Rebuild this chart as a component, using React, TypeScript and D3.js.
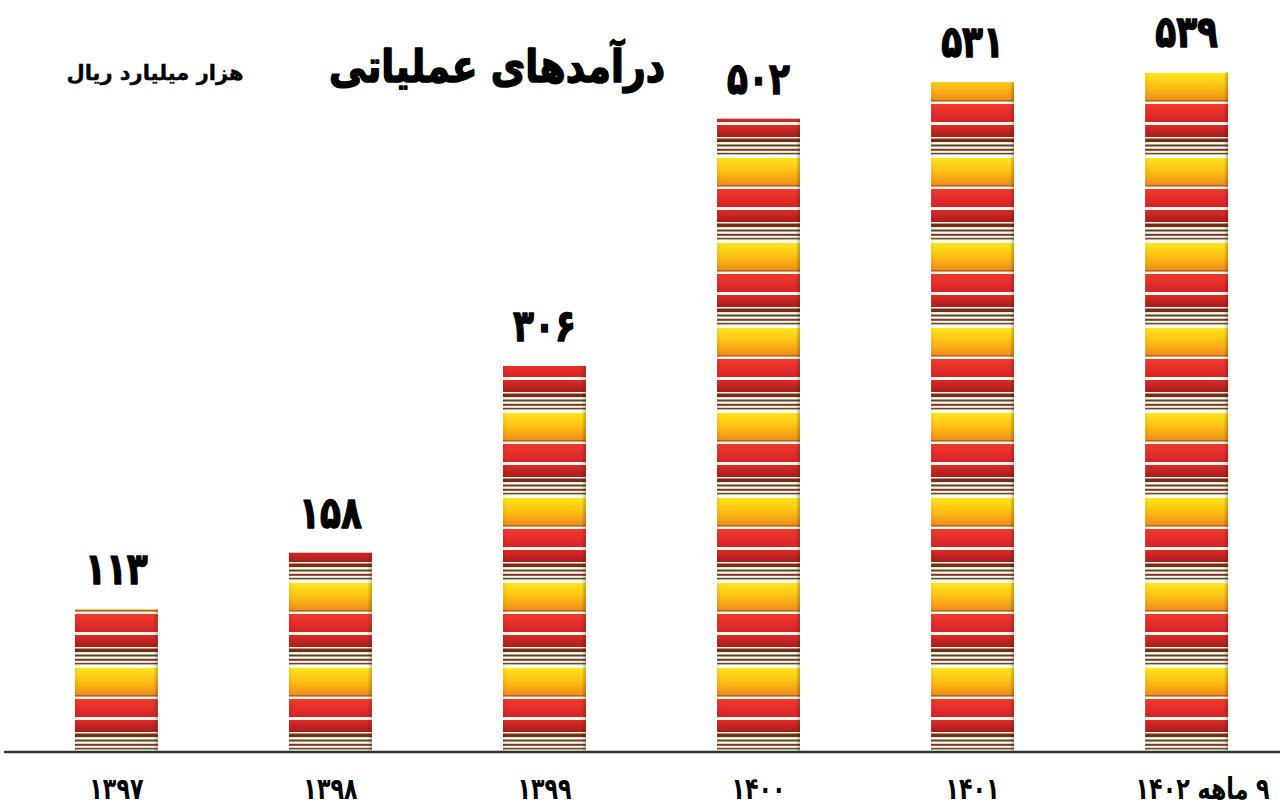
import React from "react";
import * as d3 from "d3";

const categories = ["۱۳۹۷", "۱۳۹۸", "۱۳۹۹", "۱۴۰۰", "۱۴۰۱", "۹ ماهه ۱۴۰۲"];
const values = [113, 158, 306, 502, 531, 539];
const titleText = "درآمدهای عملیاتی";
const unitText = "هزار میلیارد ریال";

const W = 1280;
const H = 805;
const baseline = 752;
const TILE = 85;

const faDigits = "۰۱۲۳۴۵۶۷۸۹";
const toFa = (n: number) => String(n).replace(/[0-9]/g, (d) => faDigits[+d]);

// stripe layout inside one pattern tile (offset from tile top, height, fill)
const stripes: [number, number, string][] = [
  [1, 28, "url(#gYellow)"],
  [28, 1.6, "#b4661e"],
  [32, 18, "url(#gRed1)"],
  [53, 12, "url(#gRed2)"],
  [66.5, 3.6, "#7a2c14"],
  [72.5, 2, "#4c4a30"],
  [76.8, 2, "#8a3020"],
  [80.8, 1.6, "#5a5030"],
];

export default function App() {
  const x = d3
    .scaleBand<string>()
    .domain(categories)
    .range([10.7, 1292.3])
    .paddingInner(0.6125)
    .paddingOuter(0.3);
  const y = d3.scaleLinear().domain([0, 539]).range([baseline, 72]);
  const bw = x.bandwidth();
  const font = "'DejaVu Sans', sans-serif";

  return (
    <svg
      width={W}
      height={H}
      viewBox={`0 0 ${W} ${H}`}
      style={{ position: "absolute", left: 0, top: 0, background: "#fff" }}
    >
      <defs>
        <linearGradient id="gYellow" x1="0" y1="0" x2="0" y2="1">
          <stop offset="0" stopColor="#ffe61c" />
          <stop offset="0.45" stopColor="#fdc214" />
          <stop offset="1" stopColor="#f08a1a" />
        </linearGradient>
        <linearGradient id="gRed1" x1="0" y1="0" x2="0" y2="1">
          <stop offset="0" stopColor="#f03a2c" />
          <stop offset="1" stopColor="#d62228" />
        </linearGradient>
        <linearGradient id="gRed2" x1="0" y1="0" x2="0" y2="1">
          <stop offset="0" stopColor="#dc2c26" />
          <stop offset="1" stopColor="#a81c1c" />
        </linearGradient>
        <linearGradient id="gEdge" x1="0" y1="0" x2="1" y2="0">
          <stop offset="0" stopColor="#000" stopOpacity="0.06" />
          <stop offset="0.05" stopColor="#000" stopOpacity="0" />
          <stop offset="0.95" stopColor="#000" stopOpacity="0" />
          <stop offset="1" stopColor="#3a2a00" stopOpacity="0.3" />
        </linearGradient>
        <pattern
          id="barPattern"
          patternUnits="userSpaceOnUse"
          x={0}
          y={baseline}
          width={W}
          height={TILE}
        >
          <rect x={0} y={0} width={W} height={TILE} fill="#fefbee" />
          {stripes.map(([o, h, f], i) => (
            <rect key={i} x={0} y={o} width={W} height={h} fill={f} />
          ))}
        </pattern>
      </defs>

      <text
        transform="translate(497,82) scale(0.84,1)"
        textAnchor="middle"
        direction="rtl"
        fontFamily={font}
        fontWeight="bold"
        fontSize={45}
        fill="#000"
        stroke="#000"
        strokeWidth={1.6}
        strokeLinejoin="round"
      >
        {titleText}
      </text>
      <text
        x={155}
        y={80}
        textAnchor="middle"
        direction="rtl"
        fontFamily={font}
        fontWeight="bold"
        fontSize={21}
        fill="#000"
        stroke="#000"
        strokeWidth={0.4}
      >
        {unitText}
      </text>

      {categories.map((c, i) => {
        const x0 = x(c)!;
        const top = y(values[i]);
        const cx = x0 + bw / 2;
        return (
          <g key={c}>
            <rect x={x0} y={top} width={bw} height={baseline - top} fill="url(#barPattern)" />
            <rect x={x0} y={top} width={bw} height={baseline - top} fill="url(#gEdge)" />
            <text
              transform={`translate(${cx},${top - 25}) scale(0.78,1)`}
              textAnchor="middle"
              fontFamily={font}
              fontWeight="bold"
              fontSize={44}
              fill="#000"
              stroke="#000"
              strokeWidth={1.4}
              strokeLinejoin="round"
            >
              {toFa(values[i])}
            </text>
          </g>
        );
      })}

      <line x1={4} x2={W} y1={baseline} y2={baseline} stroke="#333" strokeWidth={2.5} />

      {categories.map((c, i) => {
        const cx = x(c)! + bw / 2 + (i === categories.length - 1 ? 16 : 0);
        return (
          <text
            key={c}
            transform={`translate(${cx},799) scale(0.74,1)`}
            textAnchor="middle"
            direction="rtl"
            fontFamily={font}
            fontWeight="bold"
            fontSize={30}
            fill="#000"
          >
            {c}
          </text>
        );
      })}
    </svg>
  );
}
